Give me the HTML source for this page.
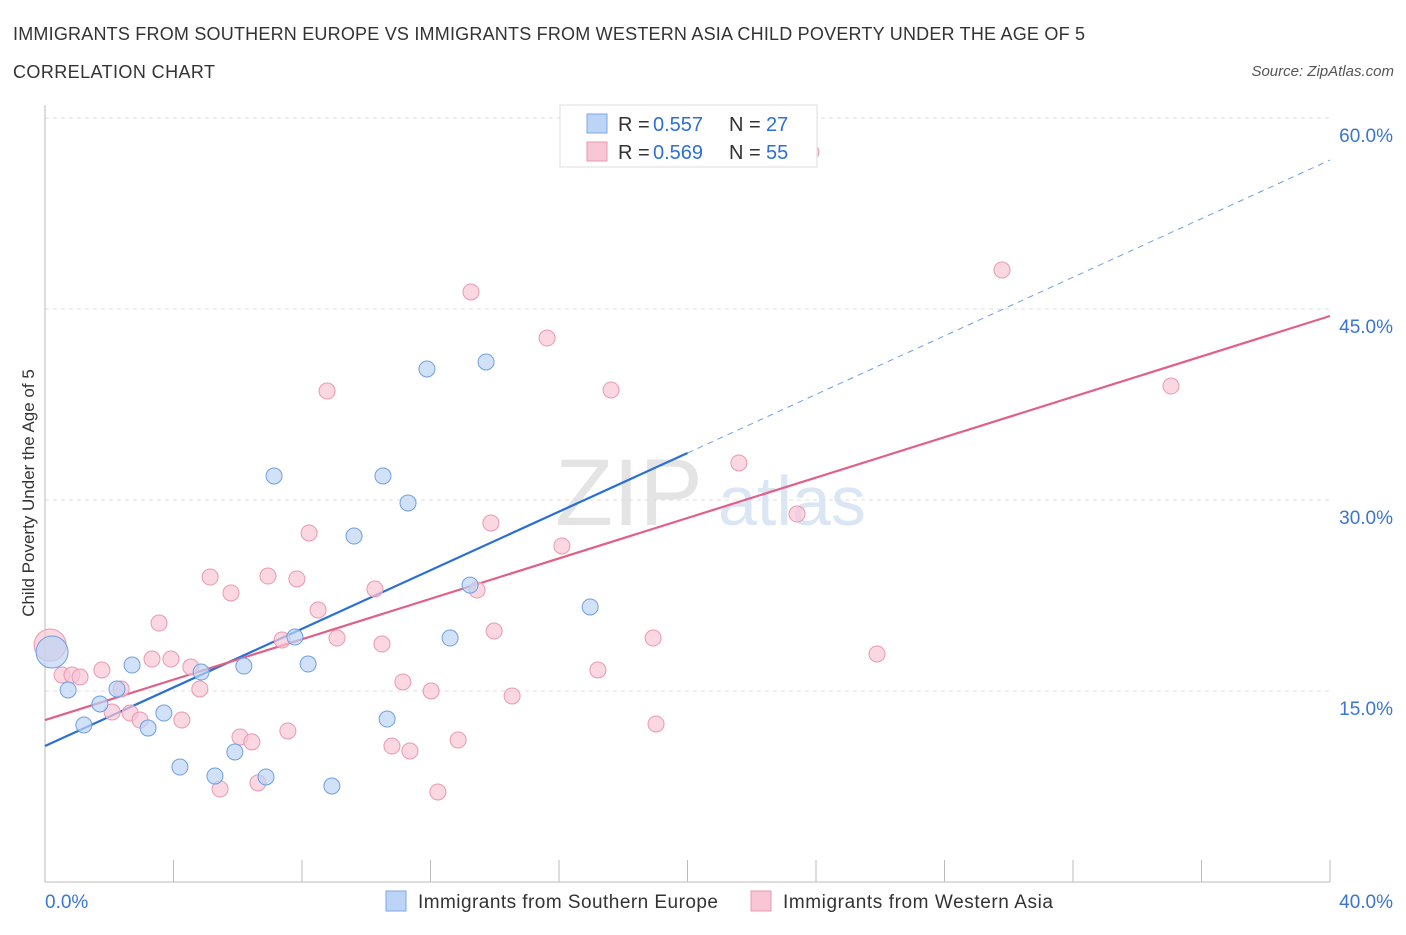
<!DOCTYPE html>
<html><head><meta charset="utf-8"><style>
body{margin:0;background:#fff;font-family:"Liberation Sans",sans-serif;}
svg text{font-family:"Liberation Sans",sans-serif;}
</style></head><body>
<svg id="chart" width="1406" height="930" viewBox="0 0 1406 930" xmlns="http://www.w3.org/2000/svg">
<text x="13" y="40" font-size="18" fill="#333" textLength="1072" lengthAdjust="spacing">IMMIGRANTS FROM SOUTHERN EUROPE VS IMMIGRANTS FROM WESTERN ASIA CHILD POVERTY UNDER THE AGE OF 5</text>
<text x="13" y="78" font-size="18" fill="#333" textLength="202" lengthAdjust="spacing">CORRELATION CHART</text>
<text x="1394" y="76" font-size="15" fill="#555" text-anchor="end" font-style="italic">Source: ZipAtlas.com</text>
<text x="555" y="525" font-size="95" fill="#e4e4e4" font-family="Liberation Serif">ZIP</text>
<text x="718" y="525" font-size="70" fill="#dbe6f5">atlas</text>
<text transform="translate(34,493) rotate(-90)" font-size="17" fill="#333" text-anchor="middle">Child Poverty Under the Age of 5</text>
<g id="grid"></g><g id="axes"></g><g id="lines"></g><g id="points"></g>
<g>
<rect x="560" y="105" width="257" height="62" fill="#fff" stroke="#ddd"/>
<rect x="587" y="114" width="20" height="19" fill="#bcd4f5" stroke="#7aa7e6"/>
<text x="618" y="131" font-size="20" fill="#333">R =</text>
<text x="653" y="131" font-size="20" fill="#2e6fd6">0.557</text>
<text x="729" y="131" font-size="20" fill="#333">N =</text>
<text x="766" y="131" font-size="20" fill="#2e6fd6">27</text>
<rect x="587" y="142" width="20" height="19" fill="#f8c6d4" stroke="#ea98b0"/>
<text x="618" y="159" font-size="20" fill="#333">R =</text>
<text x="653" y="159" font-size="20" fill="#2e6fd6">0.569</text>
<text x="729" y="159" font-size="20" fill="#333">N =</text>
<text x="766" y="159" font-size="20" fill="#2e6fd6">55</text>
</g>
<g>
<rect x="386" y="891" width="20" height="20" fill="#bcd4f5" stroke="#7aa7e6"/>
<text x="418" y="908" font-size="19" fill="#333" textLength="300" lengthAdjust="spacing">Immigrants from Southern Europe</text>
<rect x="751" y="891" width="20" height="20" fill="#f8c6d4" stroke="#ea98b0"/>
<text x="783" y="908" font-size="19" fill="#333" textLength="270" lengthAdjust="spacing">Immigrants from Western Asia</text>
</g>
</svg>
<script>
const yTicks=[15,30,45,60];
const yTickLabels=["15.0%","30.0%","45.0%","60.0%"];
const xTickVals=[0,4,8,12,16,20,24,28,32,36,40];
const blueX=[0.22,0.72,1.21,1.71,2.24,2.71,3.21,3.70,4.20,4.86,5.29,5.91,6.19,6.88,7.13,7.78,8.19,8.93,9.62,10.52,10.65,11.30,11.89,12.61,13.23,13.73,16.97];
const blueY=[18.06,15.08,12.33,13.98,15.16,17.04,12.09,13.27,9.03,16.49,8.32,10.21,16.96,8.25,31.89,19.24,17.12,7.54,27.17,31.89,12.80,29.77,40.29,19.16,23.32,40.84,21.60];
const pinkX=[0.16,0.53,0.84,1.09,1.77,2.09,2.37,2.65,2.96,3.33,3.55,3.92,4.26,4.54,4.82,5.14,5.45,5.79,6.07,6.44,6.63,6.94,7.38,7.56,7.84,8.22,8.50,8.78,9.09,10.27,10.49,10.80,11.14,11.36,12.02,12.23,12.86,13.26,13.45,13.88,13.98,14.54,15.63,16.09,17.21,17.62,18.93,19.02,21.60,23.41,23.84,25.90,29.79,35.05];
const pinkY=[18.61,16.26,16.26,16.10,16.65,13.35,15.16,13.27,12.72,17.51,20.34,17.51,12.72,16.89,15.16,23.95,7.30,22.70,11.39,11.00,7.78,24.03,19.01,11.86,23.80,27.41,21.36,38.56,19.16,23.01,18.69,10.68,15.71,10.29,15.00,7.07,11.15,46.34,22.93,28.19,19.71,14.61,42.72,26.39,16.65,38.64,19.16,12.41,32.91,28.90,57.33,17.91,48.06,38.95];
const blueTrend=[10.68,1.1505];
const pinkTrend=[12.72,0.7933];
const NS="http://www.w3.org/2000/svg";
const X=v=>45+v*32.125, Y=v=>882-v*12.733;
function mk(t,a,p){const e=document.createElementNS(NS,t);for(const k in a)e.setAttribute(k,a[k]);document.getElementById(p).appendChild(e);return e;}
yTicks.forEach((v,i)=>{
 const g=mk('line',{x1:45,x2:1330,y1:Y(v),y2:Y(v),stroke:'#ddd','stroke-dasharray':'4,4'},'grid');
 
 
 const t=mk('text',{x:1393,y:Y(v)+24,'font-size':19,fill:'#3a75d4','text-anchor':'end'},'grid');
 t.textContent=yTickLabels[i];
 
 
});
let a=mk('line',{x1:45,x2:45,y1:105,y2:882,stroke:'#bbb'},'axes');


a=mk('line',{x1:45,x2:1330,y1:882,y2:882,stroke:'#bbb'},'axes');


xTickVals.forEach(v=>{const t=mk('line',{x1:X(v),x2:X(v),y1:860,y2:882,stroke:'#bbb'},'axes');
 
 });
let t=mk('text',{x:45,y:908,'font-size':19,fill:'#3a75d4'},'axes');t.textContent='0.0%';


t=mk('text',{x:1393,y:908,'font-size':19,fill:'#3a75d4','text-anchor':'end'},'axes');t.textContent='40.0%';


function pts(xs,ys,fill,stroke,name){xs.forEach((x,i)=>{const big=i==0;const c=mk('circle',{cx:X(x),cy:Y(ys[i]),r:big?16:8,fill:fill,stroke:stroke,'stroke-width':1,'fill-opacity':0.7},'points');
 
 });}
pts(pinkX,pinkY,'#f8c6d4','#ea98b0','point-western-asia');
pts(blueX,blueY,'#bcd4f5','#6f9fe0','point-southern-europe');
let l=mk('line',{x1:X(0),y1:Y(blueTrend[0]),x2:X(20),y2:Y(blueTrend[0]+20*blueTrend[1]),stroke:'#2a6fd6','stroke-width':2.2},'lines');


l=mk('line',{x1:X(20),y1:Y(blueTrend[0]+20*blueTrend[1]),x2:X(40),y2:Y(blueTrend[0]+40*blueTrend[1]),stroke:'#6f9fe0','stroke-width':1,'stroke-dasharray':'6,5'},'lines');


l=mk('line',{x1:X(0),y1:Y(pinkTrend[0]),x2:X(40),y2:Y(pinkTrend[0]+40*pinkTrend[1]),stroke:'#e0608a','stroke-width':2.2},'lines');


</script>
</body></html>
